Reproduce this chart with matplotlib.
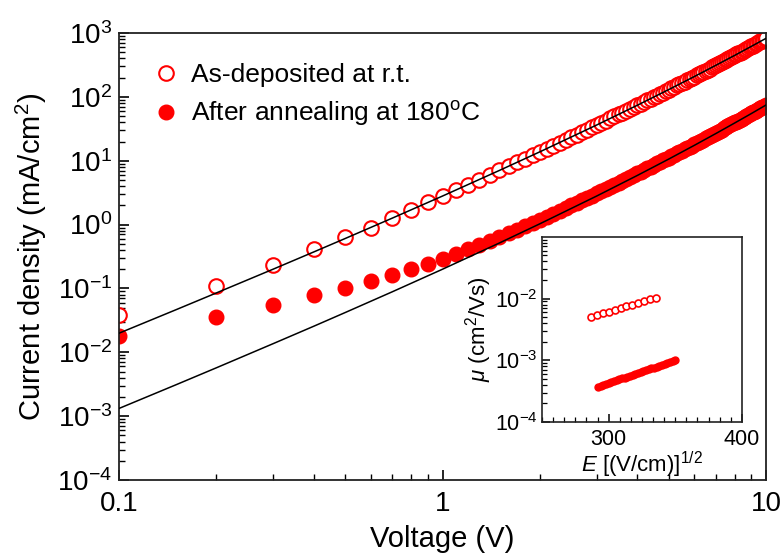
import matplotlib
matplotlib.use('Agg')
import matplotlib.pyplot as plt
from matplotlib.ticker import LogLocator, NullFormatter, AutoMinorLocator
import numpy as np

plt.rcParams['font.family'] = ['Liberation Sans', 'DejaVu Sans']
plt.rcParams['mathtext.fontset'] = 'custom'
plt.rcParams['mathtext.rm'] = 'Liberation Sans'
plt.rcParams['mathtext.it'] = 'Liberation Sans:italic'

# J-V sweep, 0.1 V steps
voltage = [0.1, 0.2, 0.3, 0.4, 0.5, 0.6, 0.7, 0.8, 0.9,
           1.0, 1.1, 1.2, 1.3, 1.4, 1.5, 1.6, 1.7, 1.8, 1.9,
           2.0, 2.1, 2.2, 2.3, 2.4, 2.5, 2.6, 2.7, 2.8, 2.9,
           3.0, 3.1, 3.2, 3.3, 3.4, 3.5, 3.6, 3.7, 3.8, 3.9,
           4.0, 4.1, 4.2, 4.3, 4.4, 4.5, 4.6, 4.7, 4.8, 4.9,
           5.0, 5.1, 5.2, 5.3, 5.4, 5.5, 5.6, 5.7, 5.8, 5.9,
           6.0, 6.1, 6.2, 6.3, 6.4, 6.5, 6.6, 6.7, 6.8, 6.9,
           7.0, 7.1, 7.2, 7.3, 7.4, 7.5, 7.6, 7.7, 7.8, 7.9,
           8.0, 8.1, 8.2, 8.3, 8.4, 8.5, 8.6, 8.7, 8.8, 8.9,
           9.0, 9.1, 9.2, 9.3, 9.4, 9.5, 9.6, 9.7, 9.8, 9.9,
           10.0]

# current density (mA/cm2), as-deposited film
j_asdep = [0.039, 0.111, 0.229, 0.41, 0.63, 0.90, 1.26, 1.72, 2.23,
           2.80, 3.48, 4.23, 5.08, 6.02, 7.06, 8.19, 9.43, 10.8, 12.2,
           13.8, 15.5, 17.3, 19.2, 21.2, 23.4, 25.7, 28.2, 30.8, 33.5,
           36.4, 39.4, 42.6, 45.9, 49.4, 53.1, 56.9, 60.9, 65.1, 69.4,
           73.9, 78.7, 83.6, 88.6, 93.9, 99.4, 105, 111, 117, 123,
           130, 137, 144, 151, 158, 166, 174, 182, 191, 199,
           208, 217, 227, 237, 247, 257, 268, 278, 290, 301,
           313, 325, 337, 350, 363, 376, 390, 404, 418, 433,
           448, 463, 479, 495, 511, 528, 545, 562, 580, 598,
           617, 636, 656, 675, 696, 716, 738, 759, 781, 803,
           826]

# current density (mA/cm2), annealed film
j_anneal = [0.0178, 0.0355, 0.056, 0.079, 0.103, 0.129, 0.160, 0.199, 0.243,
            0.290, 0.349, 0.415, 0.486, 0.561, 0.645, 0.734, 0.834, 0.941, 1.06,
            1.18, 1.33, 1.48, 1.64, 1.82, 2.00, 2.20, 2.40, 2.62, 2.85,
            3.09, 3.35, 3.63, 3.92, 4.22, 4.54, 4.87, 5.22, 5.58, 5.96,
            6.35, 6.76, 7.19, 7.63, 8.09, 8.57, 9.07, 9.59, 10.1, 10.7,
            11.2, 11.8, 12.4, 13.1, 13.7, 14.4, 15.1, 15.8, 16.5, 17.3,
            18.1, 18.9, 19.8, 20.6, 21.5, 22.4, 23.4, 24.4, 25.4, 26.4,
            27.5, 28.6, 29.7, 30.8, 32.0, 33.2, 34.4, 35.7, 37.0, 38.4,
            39.7, 41.1, 42.5, 44.0, 45.5, 47.0, 48.6, 50.2, 51.9, 53.5,
            55.3, 57.0, 58.8, 60.6, 62.5, 64.4, 66.3, 68.3, 70.3, 72.4,
            74.5]

# fitted curves
fit_v = [0.1, 0.15, 0.2, 0.3, 0.4, 0.5, 0.7, 1, 1.5, 2, 3, 4, 5, 6, 7, 8, 9, 10]
fit_asdep = [0.0199, 0.0464, 0.0851, 0.201, 0.373, 0.605, 1.265, 2.80, 7.06,
             13.8, 36.4, 73.9, 130, 208, 313, 447, 617, 826]
fit_anneal = [0.00132, 0.00310, 0.00572, 0.0137, 0.0256, 0.0419, 0.0888, 0.200,
              0.516, 1.03, 2.81, 5.88, 10.6, 17.4, 26.7, 39.0, 54.7, 74.6]

# field-dependent mobility (inset)
e_asdep = [287, 291.4, 295.8, 300.2, 304.6, 309, 313.4, 317.8, 322.2, 326.6, 331, 335.4]
mu_asdep = [5.07e-3, 5.41e-3, 5.77e-3, 6.16e-3, 6.57e-3, 7.02e-3, 7.48e-3, 7.98e-3,
            8.52e-3, 9.10e-3, 9.70e-3, 1.035e-2]
e_anneal = [292, 294, 296, 298, 300, 302, 304, 306, 308, 310, 312, 314, 316, 318, 320,
            322, 324, 326, 328, 330, 332, 334, 336, 338, 340, 342, 344, 346, 348, 350]
mu_anneal = [3.75e-4, 3.88e-4, 4.01e-4, 4.15e-4, 4.30e-4, 4.44e-4, 4.59e-4, 4.75e-4,
             4.92e-4, 5.08e-4, 5.26e-4, 5.44e-4, 5.62e-4, 5.82e-4, 6.02e-4, 6.22e-4,
             6.44e-4, 6.66e-4, 6.89e-4, 7.13e-4, 7.38e-4, 7.63e-4, 7.89e-4, 8.17e-4,
             8.45e-4, 8.74e-4, 9.04e-4, 9.35e-4, 9.67e-4, 1.00e-3]

j_ticks = [1e-4, 1e-3, 1e-2, 1e-1, 1e0, 1e1, 1e2, 1e3]
mu_ticks = [1e-4, 1e-3, 1e-2]

fig = plt.figure(figsize=(7.8, 5.56), dpi=100)
ax = fig.add_axes([0.1526, 0.1367, 0.8295, 0.8039])

ax.plot(voltage, j_asdep, 'o', mfc='white', mec='red', mew=1.5, ms=10.5,
        label='As-deposited at r.t.', zorder=2)
ax.plot(voltage, j_anneal, 'o', color='red', mec='red', ms=10.5,
        label='After annealing at 180$^{\\mathrm{o}}$C', zorder=2)
ax.plot(fit_v, fit_asdep, '-', color='black', lw=1.1, zorder=4)
ax.plot(fit_v, fit_anneal, '-', color='black', lw=1.1, zorder=4)

ax.set_xscale('log')
ax.set_yscale('log')
ax.set_xlim(0.1, 10)
ax.set_ylim(1e-4, 1e3)
ax.set_xticks([0.1, 1, 10])
ax.set_xticklabels(['0.1', '1', '10'])
ax.xaxis.set_minor_locator(LogLocator(base=10, subs=np.arange(2, 10), numticks=20))
ax.xaxis.set_minor_formatter(NullFormatter())
ax.set_yticks(j_ticks)
ax.yaxis.set_minor_locator(LogLocator(base=10, subs=np.arange(2, 10), numticks=20))
ax.yaxis.set_minor_formatter(NullFormatter())
ax.set_ylim(1e-4, 1e3)

ax.tick_params(which='both', direction='in', top=False, right=False, labelsize=20)
ax.tick_params(which='major', length=7, width=1.2)
ax.tick_params(which='minor', length=4, width=1)
ax.tick_params(axis='x', pad=8)
ax.tick_params(axis='y', pad=5)
for sp in ax.spines.values():
    sp.set_linewidth(1.3)
    sp.set_color('#222222')

ax.set_xlabel('Voltage (V)', fontsize=21, labelpad=6)
ax.set_ylabel('Current density (mA/cm$^{\\mathrm{2}}$)', fontsize=21, labelpad=6)

ax.legend(loc='upper left', bbox_to_anchor=(0.015, 0.985), frameon=False, fontsize=19,
          handlelength=1.0, handletextpad=0.45, labelspacing=0.45)

# inset: mobility vs square root of field
axin = fig.add_axes([0.695, 0.241, 0.256, 0.333])
axin.plot(e_asdep, mu_asdep, 'o', mfc='white', mec='red', mew=1.2, ms=5)
axin.plot(e_anneal, mu_anneal, 'o', color='red', ms=5)
axin.set_yscale('log')
axin.set_xlim(250, 400)
axin.set_xticks([300, 400])
axin.xaxis.set_minor_locator(AutoMinorLocator(12))
axin.set_yticks(mu_ticks)
axin.yaxis.set_minor_locator(LogLocator(base=10, subs=np.arange(2, 10), numticks=20))
axin.yaxis.set_minor_formatter(NullFormatter())
axin.set_ylim(1e-4, 1e-1)
axin.tick_params(which='both', direction='in', top=False, right=False, labelsize=15.5)
axin.tick_params(which='major', length=6, width=1.1)
axin.tick_params(which='minor', length=3.5, width=0.9)
axin.tick_params(axis='x', pad=5)
axin.tick_params(axis='y', pad=3)
for sp in axin.spines.values():
    sp.set_linewidth(1.2)
    sp.set_color('#222222')
axin.set_xlabel('$E$ [(V/cm)]$^{\\mathrm{1/2}}$', fontsize=16, labelpad=0)
axin.set_ylabel('$\\mu$ (cm$^{\\mathrm{2}}$/Vs)', fontsize=16, labelpad=1)

fig.savefig('out.png', dpi=100)
